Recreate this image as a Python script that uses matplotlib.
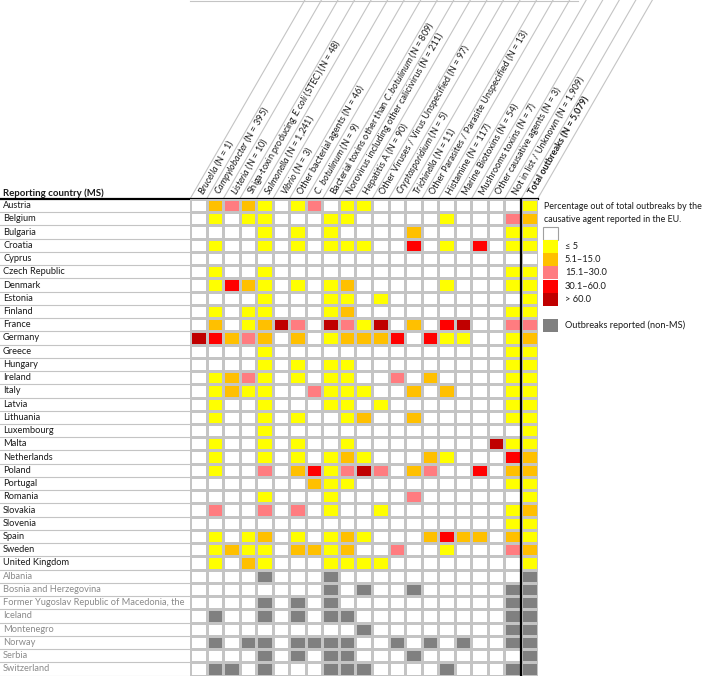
import numpy as np
import matplotlib
matplotlib.use("Agg")
import matplotlib.pyplot as plt
from matplotlib.colors import ListedColormap, BoundaryNorm
from matplotlib.patches import Rectangle
import matplotlib.transforms as mtransforms

plt.rcParams['font.family'] = ['Lato', 'DejaVu Sans']
plt.rcParams['mathtext.fontset'] = 'custom'
plt.rcParams['mathtext.rm'] = 'Lato'
plt.rcParams['mathtext.it'] = 'Lato:italic'
plt.rcParams['mathtext.bf'] = 'Lato:bold'

# ---------------- data ----------------
agents = [
    r"$\mathit{Brucella}$ (N = 1)",
    r"$\mathit{Campylobacter}$ (N = 395)",
    r"$\mathit{Listeria}$ (N = 10)",
    r"Shiga-toxin producing $\mathit{E.coli}$ (STEC) (N = 48)",
    r"$\mathit{Salmonella}$ (N = 1,241)",
    r"$\mathit{Vibrio}$ (N = 3)",
    "Other bacterial agents (N = 46)",
    r"$\mathit{C.\ botulinum}$ (N = 9)",
    r"Bacterial toxins other than $\mathit{C.botulinum}$ (N = 809)",
    "Norovirus including other calicivirus (N = 211)",
    "Hepatitis A (N = 90)",
    "Other Viruses / Virus Unspecified (N = 97)",
    r"$\mathit{Cryptosporidium}$ (N = 5)",
    r"$\mathit{Trichinella}$ (N = 11)",
    "Other Parasites / Parasite Unspecified (N = 13)",
    "Histamine (N = 117)",
    "Marine Biotoxins (N = 54)",
    "Mushrooms toxins (N = 7)",
    "Other causative agents (N = 3)",
    "Not in list / Unknown (N = 1,909)",
    "Total outbreaks (N = 5,079)",
]

# class codes: 0 none, 1 <=5, 2 5.1-15, 3 15.1-30, 4 30.1-60, 5 >60
ms_countries = ["Austria", "Belgium", "Bulgaria", "Croatia", "Cyprus", "Czech Republic",
                "Denmark", "Estonia", "Finland", "France", "Germany", "Greece", "Hungary",
                "Ireland", "Italy", "Latvia", "Lithuania", "Luxembourg", "Malta",
                "Netherlands", "Poland", "Portugal", "Romania", "Slovakia", "Slovenia",
                "Spain", "Sweden", "United Kingdom"]
ms_levels = [
    [0,2,3,2,1,0,1,3,0,1,1,0,0,0,0,0,0,0,0,0,1],  # Austria
    [0,1,0,1,1,0,0,0,1,1,0,0,0,0,0,1,0,0,0,3,2],  # Belgium
    [0,0,0,0,1,0,1,0,1,0,0,0,0,2,0,0,0,0,0,1,1],  # Bulgaria
    [0,1,0,0,1,0,1,0,1,1,1,0,0,4,0,1,0,4,0,1,1],  # Croatia
    [0,0,0,0,0,0,0,0,0,0,0,0,0,0,0,0,0,0,0,0,0],  # Cyprus
    [0,1,0,0,1,0,0,0,0,0,0,0,0,0,0,0,0,0,0,1,1],  # Czech Republic
    [0,1,4,2,1,0,1,0,1,2,0,0,0,0,0,1,0,0,0,1,1],  # Denmark
    [0,0,0,0,1,0,0,0,1,1,0,1,0,0,0,0,0,0,0,0,1],  # Estonia
    [0,1,0,1,1,0,0,0,1,2,0,0,0,0,0,0,0,0,0,1,1],  # Finland
    [0,2,0,1,2,5,3,0,5,3,1,5,0,2,0,4,5,0,0,3,3],  # France
    [5,4,2,3,2,0,2,0,1,2,2,2,4,0,4,1,1,0,0,1,2],  # Germany
    [0,0,0,0,1,0,0,0,0,0,0,0,0,0,0,0,0,0,0,1,1],  # Greece
    [0,0,0,0,1,0,1,0,1,1,0,0,0,0,0,0,0,0,0,1,1],  # Hungary
    [0,1,2,3,1,0,1,0,1,1,0,0,3,0,2,0,0,0,0,1,1],  # Ireland
    [0,1,2,1,1,0,0,3,1,1,1,0,0,2,0,2,0,0,0,1,1],  # Italy
    [0,1,0,0,1,0,0,0,1,1,0,1,0,0,0,0,0,0,0,1,1],  # Latvia
    [0,1,0,0,1,0,1,0,0,1,2,0,0,2,0,0,0,0,0,1,1],  # Lithuania
    [0,0,0,0,1,0,0,0,0,0,0,0,0,0,0,0,0,0,0,0,1],  # Luxembourg
    [0,1,0,0,1,0,1,0,0,1,0,0,0,0,0,0,0,0,5,1,1],  # Malta
    [0,1,0,0,1,0,1,0,1,2,1,0,0,0,2,1,0,0,0,4,2],  # Netherlands
    [0,1,0,0,3,0,2,4,1,3,5,3,0,2,3,0,0,4,0,2,2],  # Poland
    [0,0,0,0,0,0,0,2,1,1,0,0,0,0,0,0,0,0,0,1,1],  # Portugal
    [0,0,0,0,1,0,0,0,1,0,0,0,0,3,0,0,0,0,0,0,1],  # Romania
    [0,3,0,0,3,0,3,0,1,0,0,1,0,0,0,0,0,0,0,1,2],  # Slovakia
    [0,0,0,0,0,0,0,0,0,0,0,0,0,0,0,0,0,0,0,1,1],  # Slovenia
    [0,1,0,1,2,0,1,0,1,2,1,0,0,0,2,4,2,2,0,2,1],  # Spain
    [0,1,2,1,1,0,2,2,1,2,0,0,3,0,0,1,0,0,0,3,2],  # Sweden
    [0,1,0,2,1,0,0,0,1,1,1,1,0,0,0,0,0,0,0,0,1],  # United Kingdom
]

# non-MS: 1 = outbreaks reported
nonms_countries = ["Albania", "Bosnia and Herzegovina",
                   "Former Yugoslav Republic of Macedonia, the", "Iceland",
                   "Montenegro", "Norway", "Serbia", "Switzerland"]
nonms_reported = [
    [0,0,0,0,1,0,0,0,1,0,0,0,0,0,0,0,0,0,0,0,1],  # Albania
    [0,0,0,0,0,0,0,0,1,0,1,0,0,1,0,0,0,0,0,1,1],  # Bosnia and Herzegovina
    [0,0,0,0,1,0,1,0,1,0,0,0,0,0,0,0,0,0,0,1,1],  # FYROM
    [0,1,0,0,1,0,1,0,1,1,0,0,0,0,0,0,0,0,0,1,1],  # Iceland
    [0,0,0,0,0,0,0,0,0,0,1,0,0,0,0,0,0,0,0,1,1],  # Montenegro
    [0,1,0,1,1,0,1,1,1,1,0,0,1,0,1,0,1,0,0,1,1],  # Norway
    [0,0,0,0,1,0,1,0,1,1,0,0,0,1,0,0,0,0,0,0,1],  # Serbia
    [0,1,1,0,1,0,0,0,1,1,1,0,0,0,0,1,0,0,0,1,1],  # Switzerland
]

legend_labels = ["\u2264 5", "5.1\u201315.0", "15.1\u201330.0", "30.1\u201360.0", "> 60.0"]
palette = ['#FFFFFF', '#FFFF00', '#FFC000', '#FF7C80', '#FF0000', '#C00000', '#808080']

# ---------------- figure ----------------
W, H = 709, 676
fig = plt.figure(figsize=(W / 100, H / 100), dpi=100)
bg = fig.add_axes([0, 0, 1, 1])
bg.set_xlim(0, W)
bg.set_ylim(H, 0)
bg.axis('off')

GX0, GX1, GY0, GY1 = 190.0, 537.5, 199.0, 675.5
ax = fig.add_axes([GX0 / W, 1 - GY1 / H, (GX1 - GX0) / W, (GY1 - GY0) / H])

M = np.vstack([np.array(ms_levels), np.array(nonms_reported) * 6])
countries = ms_countries + nonms_countries
nrow, ncol = M.shape

cmap = ListedColormap(palette)
norm = BoundaryNorm(np.arange(-0.5, 7.5, 1), cmap.N)
GRID = '#c4c4c4'
ax.pcolormesh(np.arange(ncol + 1), np.arange(nrow + 1), M, cmap=cmap, norm=norm,
              edgecolors=GRID, linewidth=0.8)
ax.set_xlim(0, ncol)
ax.set_ylim(nrow, 0)
ax.axis('off')
ax.axvline(ncol - 1, color='black', lw=1.6, zorder=5)

TXT = '#1a1a1a'
trans = mtransforms.blended_transform_factory(bg.transData, ax.transData)
ms_n = len(ms_countries)
for i, name in enumerate(countries):
    bg.text(3, i + 0.5, name, transform=trans, ha='left', va='center',
            fontsize=6.7, color=TXT if i < ms_n else '#8a8a8a')
for i in range(1, nrow + 1):
    bg.plot([0, GX0], [i, i], transform=trans, color=GRID, lw=0.8)

# header
bg.text(3, GY0 - 6, "Reporting country (MS)", ha='left', va='center',
        fontsize=6.9, fontweight='bold', color=TXT)
bg.plot([0, GX1], [GY0, GY0], color='black', lw=1.6, zorder=6)

cw = (GX1 - GX0) / ncol
ang = 60.0
dx = GY0 / np.tan(np.radians(ang))
bg.plot([GX0, 578], [0.6, 0.6], color=GRID, lw=0.8)
for k in range(ncol + 1):
    x0 = GX0 + k * cw
    bg.plot([x0, x0 + dx], [GY0, 0], color=GRID, lw=0.8)
for k, lab in enumerate(agents):
    cx = GX0 + (k + 0.5) * cw
    d = 6.0
    bg.text(cx + d * np.cos(np.radians(ang)) - 1.0, GY0 - d * np.sin(np.radians(ang)), lab,
            rotation=ang, rotation_mode='anchor', ha='left', va='center',
            fontsize=6.6, color=TXT,
            fontweight='bold' if k == ncol - 1 else 'normal')

# legend
LFS = 6.4
bg.text(544, 206.5, "Percentage out of total outbreaks by the", ha='left', va='center',
        fontsize=LFS, color=TXT)
bg.text(544, 219.5, "causative agent reported in the EU.", ha='left', va='center',
        fontsize=LFS, color=TXT)
LX, LW, LH, LY = 542.7, 15.6, 13.2, 226.7
bg.add_patch(Rectangle((LX, LY), LW, LH, facecolor=palette[0], edgecolor='#a0a0a0', lw=0.8))
for j, lab in enumerate(legend_labels):
    y = LY + (j + 1) * LH
    bg.add_patch(Rectangle((LX, y), LW, LH, facecolor=palette[j + 1], edgecolor='none'))
    bg.text(565, y + LH / 2, lab, ha='left', va='center', fontsize=LFS + 0.3, color=TXT)
yg = 319.0
bg.add_patch(Rectangle((LX, yg), LW, LH, facecolor=palette[6], edgecolor='none'))
bg.text(565, yg + LH / 2, "Outbreaks reported (non-MS)", ha='left', va='center',
        fontsize=LFS + 0.3, color=TXT)

fig.savefig('out.png', dpi=100)
